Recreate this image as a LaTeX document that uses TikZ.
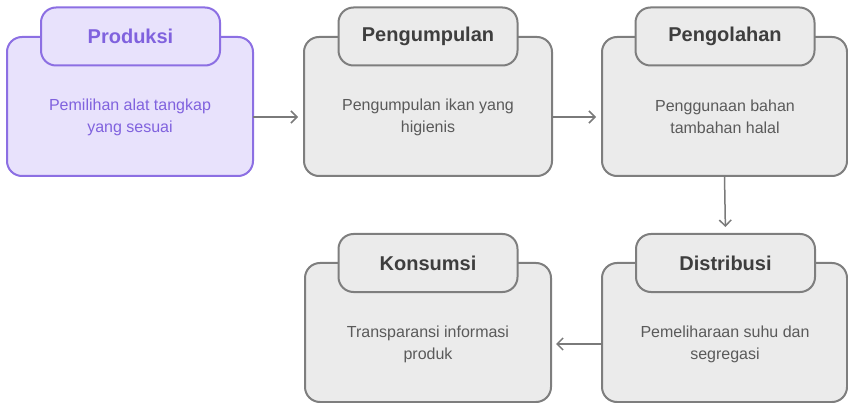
\documentclass[tikz,border=0pt]{standalone}
\usepackage{fontspec}
\setmainfont{Liberation Sans}
\usetikzlibrary{arrows.meta}
\definecolor{pfill}{HTML}{E8E2FC}
\definecolor{pline}{HTML}{8C6FE3}
\definecolor{ptext}{HTML}{8062DE}
\definecolor{gfill}{HTML}{EBEBEB}
\definecolor{gline}{HTML}{7E7E7E}
\definecolor{gtitle}{HTML}{3E3E3E}
\definecolor{gtext}{HTML}{5A5A5A}
\definecolor{arr}{HTML}{7A7A7A}
\tikzset{
  bodybox/.style={draw=gline, fill=gfill, line width=2pt, rounded corners=15pt,
    minimum width=246pt, minimum height=139pt, inner sep=0pt, outer sep=0pt},
  tabbox/.style={draw=gline, fill=gfill, line width=2pt, rounded corners=15pt,
    minimum width=179pt, minimum height=58pt, inner sep=0pt, outer sep=0pt,
    text=gtitle, font=\fontsize{20}{24}\selectfont\bfseries},
  bodytext/.style={align=center, text=gtext, font=\fontsize{16}{22}\selectfont, inner sep=0pt},
  purple/.style={draw=pline, fill=pfill},
  flow/.style={draw=arr, line width=1.5pt, -{Straight Barb[length=6pt,width=12pt,line width=1.5pt]}}
}
\begin{document}
\begin{tikzpicture}[x=1pt,y=-1pt]
\useasboundingbox (0,0) rectangle (848,403);
% bodies
\node[bodybox, purple] (b1) at (130,106.5) {};
\node[bodybox, minimum width=248pt] (b2) at (428,106.5) {};
\node[bodybox, minimum width=245pt] (b3) at (724.5,106.5) {};
\node[bodybox, minimum width=245pt] (b4) at (724.5,332.5) {};
\node[bodybox, minimum width=246pt] (b5) at (428,332.5) {};
% tabs
\node[tabbox, purple, text=ptext] (t1) at (130.5,36.5) {Produksi};
\node[tabbox] (t2) at (428,36.5) {Pengumpulan};
\node[tabbox] (t3) at (725,36.5) {Pengolahan};
\node[tabbox] (t4) at (725.5,263) {Distribusi};
\node[tabbox] (t5) at (428,263) {Konsumsi};
% texts
\node[bodytext, text=ptext] (x1) at (130,117) {Pemilihan alat tangkap\\yang sesuai};
\node[bodytext] (x2) at (428,117) {Pengumpulan ikan yang\\higienis};
\node[bodytext] (x3) at (725,117) {Penggunaan bahan\\tambahan halal};
\node[bodytext] (x4) at (725,344) {Pemeliharaan suhu dan\\segregasi};
\node[bodytext] (x5) at (428,344) {Transparansi informasi\\produk};
% arrows
\draw[flow, shorten >=6pt] (x1 -| b1.east) -- (x1 -| b2.west);
\draw[flow, shorten >=6pt] (x2 -| b2.east) -- (x2 -| b3.west);
\draw[flow, shorten >=7pt] (b3.south) -- (t4.north);
\draw[flow, shorten >=5pt] (x5 -| b4.west) -- (x5 -| b5.east);
\end{tikzpicture}
\end{document}
